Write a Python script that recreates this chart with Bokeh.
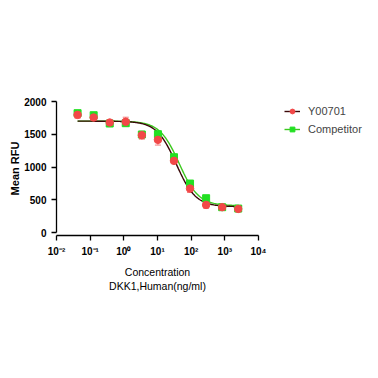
import numpy as np
from bokeh.plotting import figure
from bokeh.models import (ColumnDataSource, Whisker, Legend, LegendItem, FixedTicker,
                          CustomJSTickFormatter, Range1d)
from bokeh.embed import file_html
from bokeh.resources import INLINE

# Data
conc = [0.0423, 0.127, 0.381, 1.14, 3.43, 10.3, 30.9, 92.6, 278, 833, 2500]
y00701 = [1796, 1756, 1679, 1690, 1486, 1415, 1094, 672, 422, 387, 361]
y00701_err = [50, 35, 20, 70, 60, 80, 30, 60, 50, 15, 15]
competitor = [1822, 1791, 1664, 1669, 1496, 1501, 1150, 748, 524, 387, 366]

# 4PL fit parameters (top, bottom, EC50, hill)
fit_y00701 = (1700, 395, 36, 1.5)
fit_competitor = (1700, 410, 44, 1.5)

x_ticks = [0.01, 0.1, 1, 10, 100, 1000, 10000]
y_ticks = [0, 500, 1000, 1500, 2000]

def curve(params):
    top, bottom, ec50, hill = params
    xs = np.logspace(np.log10(conc[0]), np.log10(conc[-1]), 200)
    ys = bottom + (top - bottom) / (1 + (xs / ec50) ** hill)
    return xs, ys

p = figure(frame_width=202, frame_height=134, x_axis_type="log", output_backend="svg",
           toolbar_location=None, x_range=Range1d(0.01, 10000), y_range=Range1d(-45, 2000),
           min_border_left=56, min_border_right=111, min_border_top=101, min_border_bottom=127)
p.outline_line_color = None
p.xgrid.grid_line_color = None
p.ygrid.grid_line_color = None

red = "#f24848"
green = "#22e022"
red_line = "#3a0808"
green_line = "#3cc81e"

cx, cy = curve(fit_y00701)
gx, gy = curve(fit_competitor)
l_green = p.line(gx, gy, line_color=green_line, line_width=1.4)
l_red = p.line(cx, cy, line_color=red_line, line_width=1.4)

src_r = ColumnDataSource(dict(x=conc, y=y00701,
                              lo=[v - e for v, e in zip(y00701, y00701_err)],
                              hi=[v + e for v, e in zip(y00701, y00701_err)]))
src_g = ColumnDataSource(dict(x=conc, y=competitor))

s_green = p.scatter("x", "y", source=src_g, marker="square", size=7, fill_color=green,
                    line_color=green)
wh = Whisker(source=src_r, base="x", lower="lo", upper="hi", line_color="#f47a7a",
             line_width=1, line_alpha=0.9)
wh.upper_head.line_color = "#f47a7a"
wh.lower_head.line_color = "#f47a7a"
wh.upper_head.size = 6
wh.lower_head.size = 6
p.add_layout(wh)
s_red = p.scatter("x", "y", source=src_r, marker="circle", size=7.5, fill_color=red,
                  line_color=red)

# Axes
p.xaxis.ticker = FixedTicker(ticks=x_ticks)
p.xaxis.formatter = CustomJSTickFormatter(code="""
const sup = {'-':'\u207b','0':'\u2070','1':'\u00b9','2':'\u00b2','3':'\u00b3','4':'\u2074'};
const e = Math.round(Math.log10(tick)).toString();
let s = '';
for (const c of e) s += sup[c];
return '10' + s;
""")
p.yaxis.ticker = FixedTicker(ticks=y_ticks)
p.yaxis.bounds = (0, 2000)
for ax in (p.xaxis, p.yaxis):
    ax.minor_tick_line_color = None
    ax.major_tick_out = 5
    ax.major_tick_in = 0
    ax.axis_line_color = "black"
    ax.axis_line_width = 1.3
    ax.major_tick_line_width = 1.3
    ax.major_label_text_font = "Liberation Sans"
    ax.major_label_text_font_size = "10px"
    ax.major_label_text_color = "black"
    ax.major_label_text_font_style = "bold"
    ax.axis_label_text_font = "Liberation Sans"
    ax.axis_label_text_color = "black"
p.yaxis.axis_label = "Mean RFU"
p.yaxis.axis_label_text_font_style = "bold"
p.yaxis.axis_label_text_font_size = "11px"
p.yaxis.axis_label_standoff = 0
p.xaxis.axis_label = "Concentration\nDKK1,Human(ng/ml)"
p.xaxis.axis_label_text_font_style = "normal"
p.xaxis.axis_label_text_font_size = "10.5px"
p.xaxis.axis_label_standoff = 6

# Legend
legend = Legend(items=[LegendItem(label="Y00701", renderers=[l_red, s_red]),
                       LegendItem(label="Competitor", renderers=[l_green, s_green])],
                location=(26, 100), border_line_color=None, background_fill_alpha=0,
                label_text_font="Liberation Sans", label_text_font_size="11px",
                glyph_width=16, glyph_height=12, spacing=6, padding=0, margin=0,
                label_standoff=8)
p.add_layout(legend, "right")

open("out.html", "w").write(file_html(p, INLINE))
